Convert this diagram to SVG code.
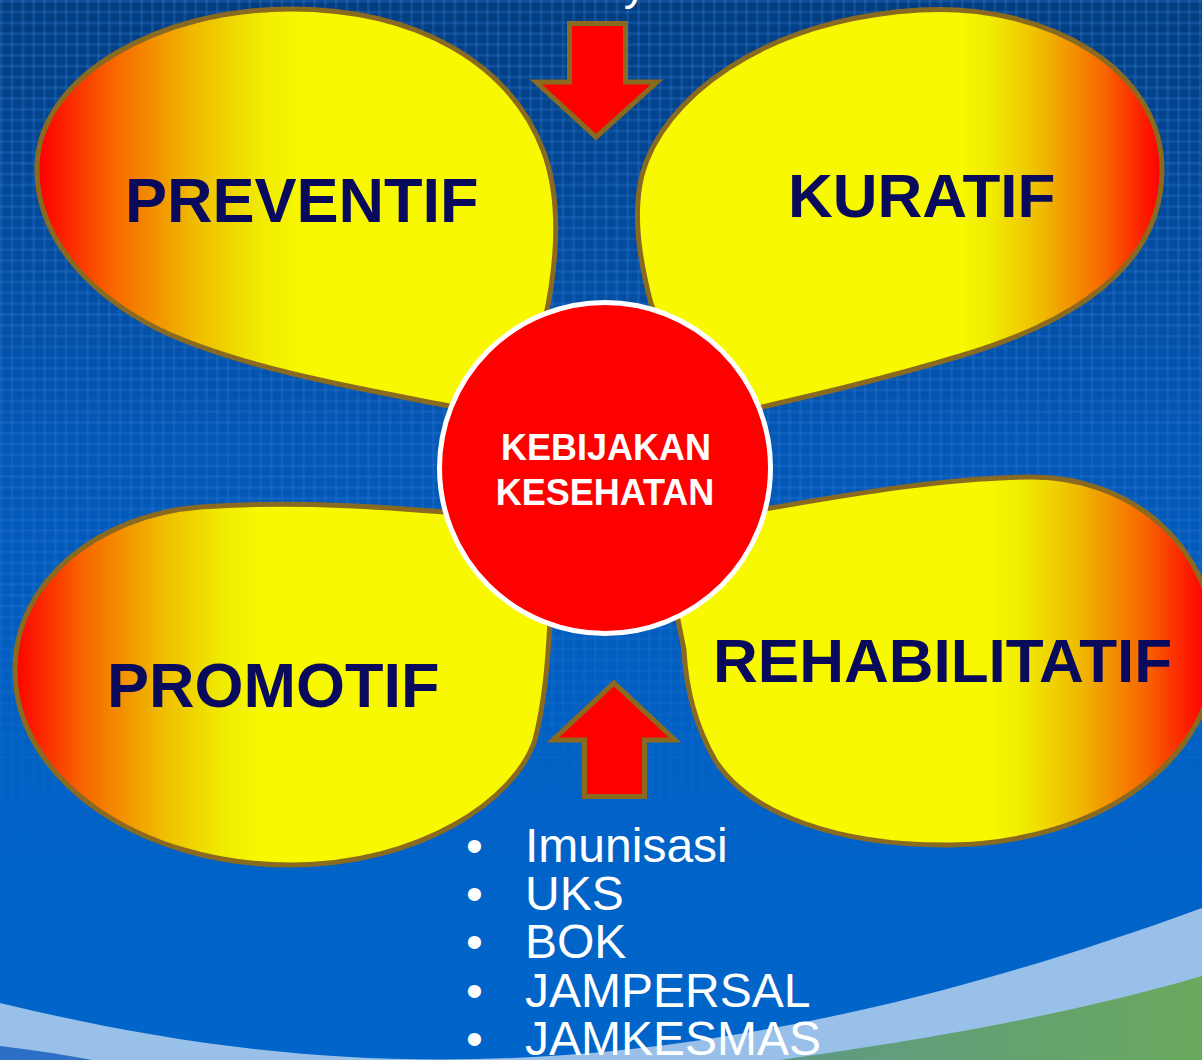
<svg xmlns="http://www.w3.org/2000/svg" width="1202" height="1060" viewBox="0 0 1202 1060">
<defs>
<style>
.petal{stroke:#8a6a20;stroke-width:5;stroke-linejoin:round}
.plabel{font-family:"Liberation Sans",Arial,sans-serif;font-weight:bold;fill:#0a0a5c}
.clabel{font-family:"Liberation Sans",Arial,sans-serif;font-weight:bold;fill:#ffffff;font-size:36px;text-anchor:middle}
.list{font-family:"Liberation Sans",Arial,sans-serif;fill:#ffffff;font-size:48px}
.arrow{fill:#ff0000;stroke:#8a6a20;stroke-width:5;stroke-linejoin:miter}
</style>
<linearGradient id="bg" x1="0" y1="0" x2="0" y2="1060" gradientUnits="userSpaceOnUse">
<stop offset="0" stop-color="#023d80"/>
<stop offset="0.42" stop-color="#0457b5"/>
<stop offset="0.75" stop-color="#0062c6"/>
<stop offset="1" stop-color="#0065ca"/>
</linearGradient>
<pattern id="grid" x="0" y="0" width="10.8" height="10.8" patternUnits="userSpaceOnUse">
<rect x="0" y="0" width="10.8" height="2.6" fill="#3a86e0" fill-opacity="0.25"/>
<rect x="0" y="0" width="2.6" height="10.8" fill="#3a86e0" fill-opacity="0.25"/>
</pattern>
<linearGradient id="fade" x1="0" y1="0" x2="0" y2="1060" gradientUnits="userSpaceOnUse">
<stop offset="0" stop-color="#fff"/>
<stop offset="0.55" stop-color="#fff" stop-opacity="0.8"/>
<stop offset="0.82" stop-color="#fff" stop-opacity="0"/>
</linearGradient>
<mask id="gridmask"><rect width="1202" height="1060" fill="url(#fade)"/></mask>
<linearGradient id="green" x1="780" y1="0" x2="1202" y2="0" gradientUnits="userSpaceOnUse">
<stop offset="0" stop-color="#5d9a86"/>
<stop offset="1" stop-color="#6aa85e"/>
</linearGradient>
<linearGradient id="gTL" x1="40" y1="0" x2="300" y2="0" gradientUnits="userSpaceOnUse">
<stop offset="0" stop-color="#ff0000"/>
<stop offset="0.28" stop-color="#f76600"/>
<stop offset="0.6" stop-color="#efbc00"/>
<stop offset="0.85" stop-color="#f0ec00"/>
<stop offset="1" stop-color="#f8f800"/>
</linearGradient>
<linearGradient id="gTR" x1="1160" y1="0" x2="960" y2="0" gradientUnits="userSpaceOnUse">
<stop offset="0" stop-color="#ff0000"/>
<stop offset="0.28" stop-color="#f76600"/>
<stop offset="0.6" stop-color="#efbc00"/>
<stop offset="0.85" stop-color="#f0ec00"/>
<stop offset="1" stop-color="#f8f800"/>
</linearGradient>
<linearGradient id="gBL" x1="15" y1="0" x2="260" y2="0" gradientUnits="userSpaceOnUse">
<stop offset="0" stop-color="#ff0000"/>
<stop offset="0.28" stop-color="#f76600"/>
<stop offset="0.6" stop-color="#efbc00"/>
<stop offset="0.85" stop-color="#f0ec00"/>
<stop offset="1" stop-color="#f8f800"/>
</linearGradient>
<linearGradient id="gBR" x1="1205" y1="0" x2="990" y2="0" gradientUnits="userSpaceOnUse">
<stop offset="0" stop-color="#ff0000"/>
<stop offset="0.28" stop-color="#f76600"/>
<stop offset="0.6" stop-color="#efbc00"/>
<stop offset="0.85" stop-color="#f0ec00"/>
<stop offset="1" stop-color="#f8f800"/>
</linearGradient>
</defs>

<g id="background">
<rect width="1202" height="1060" fill="url(#bg)"/>
<rect width="1202" height="1060" fill="url(#grid)" mask="url(#gridmask)"/>
<path d="M0,1003 C300,1075 650,1110 1202,908 L1202,1060 L0,1060 Z" fill="#99c0e8"/>
<path d="M0,1046 Q50,1052 92,1060 L0,1060 Z" fill="#2d6fc6"/>
<path d="M780,1060 C900,1043 1050,1020 1202,976 L1202,1060 Z" fill="url(#green)"/>
<text x="483" y="-1" font-family="'Liberation Sans',Arial,sans-serif" font-size="46" fill="#ffffff">Swadaya</text>
</g>

<g id="connectors">
<path class="arrow" d="M569.5,23.5 L625.5,23.5 L625.5,82 L657,82 L596,137 L536,82 L569.5,82 Z"/>
<path class="arrow" d="M614,683 L675,740 L644.5,740 L644.5,796.5 L584.5,796.5 L584.5,740 L553,740 Z"/>
</g>

<g id="node-preventif">
<path class="petal" fill="url(#gTL)" d="M470,410 C380,392 250,372 160,330 C80,290 35,230 37,165 C40,75 160,9 290,9 C420,9 510,65 543,150 C560,195 560,250 545,320 L530,420 Z"/>
<text class="plabel" x="125" y="222" font-size="63">PREVENTIF</text>
</g>

<g id="node-kuratif">
<path class="petal" fill="url(#gTR)" d="M665,345 L650,300 C640,260 632,215 642,175 C662,100 760,20 920,10 C1050,3 1162,70 1162,170 C1162,265 1075,322 960,356 C880,380 810,396 740,412 Z"/>
<text class="plabel" x="788" y="217" font-size="62">KURATIF</text>
</g>

<g id="node-promotif">
<path class="petal" fill="url(#gBL)" d="M480,515 C400,508 300,500 200,507 C100,515 15,580 15,670 C15,780 140,865 290,865 C420,865 515,800 535,740 C545,700 548,660 550,620 L560,560 Z"/>
<text class="plabel" x="107" y="707" font-size="63">PROMOTIF</text>
</g>

<g id="node-rehabilitatif">
<path class="petal" fill="url(#gBR)" d="M730,515 C820,500 930,478 1030,477 C1130,476 1215,545 1215,650 C1215,760 1100,843 950,845 C840,846 750,815 715,760 C695,725 686,690 684,650 L670,580 Z"/>
<text class="plabel" x="713" y="682" font-size="62">REHABILITATIF</text>
</g>

<g id="node-kebijakan">
<circle cx="605" cy="468" r="165.5" fill="#ff0000" stroke="#ffffff" stroke-width="5"/>
<text class="clabel" x="606" y="460">KEBIJAKAN</text>
<text class="clabel" x="605" y="505">KESEHATAN</text>
</g>

<g id="node-list">
<text class="list" x="466" y="862">•</text>
<text class="list" x="525" y="862">Imunisasi</text>
<text class="list" x="466" y="910">•</text>
<text class="list" x="525" y="910">UKS</text>
<text class="list" x="466" y="958">•</text>
<text class="list" x="525" y="958">BOK</text>
<text class="list" x="466" y="1007">•</text>
<text class="list" x="525" y="1007">JAMPERSAL</text>
<text class="list" x="466" y="1055">•</text>
<text class="list" x="525" y="1055">JAMKESMAS</text>
</g>
</svg>
